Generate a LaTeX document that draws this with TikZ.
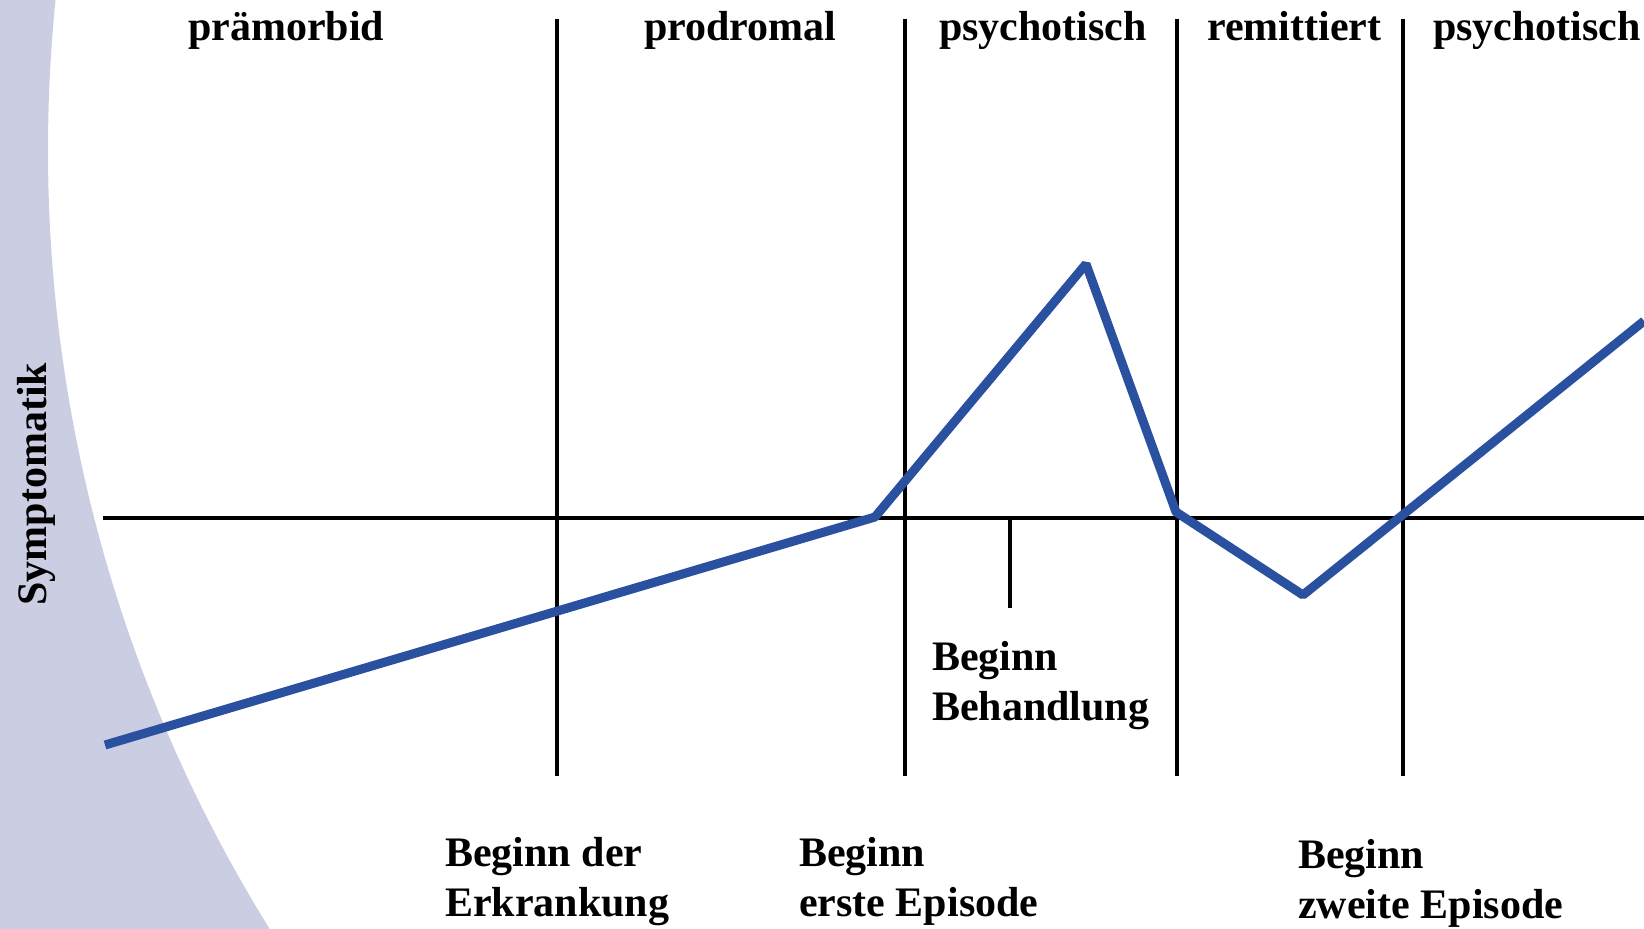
\documentclass[tikz,border=0pt]{standalone}
\usepackage{fontspec}
\setmainfont{Liberation Serif}
\definecolor{bgarc}{HTML}{CBCEE3}
\definecolor{curve}{HTML}{2A50A0}
\begin{document}
\begin{tikzpicture}[x=1pt,y=-1pt,
  lbl/.style={font=\fontsize{42}{50}\selectfont\bfseries, inner sep=0pt, anchor=base west, align=left},
  divider/.style={draw=black, line width=4pt},
  curveline/.style={draw=curve, line width=9pt, line join=bevel}]
\useasboundingbox (0,0) rectangle (1644,929);
% background arc
\begin{scope}
  \clip (0,0) rectangle (1644,929);
  \fill[bgarc, even odd rule] (-10,-600) rectangle (1700,1600) (1526,150) circle (1478);
\end{scope}
% axis and dividers
\coordinate (ax0) at (103,518);
\coordinate (ax1) at (1644,518);
\draw[divider] (ax0) -- (ax1);
\foreach \n/\x in {d1/557, d2/905, d3/1177, d4/1403} {
  \coordinate (\n top) at (\x,19);
  \coordinate (\n bot) at (\x,776);
  \draw[divider] (\n top) -- (\n bot);
}
\coordinate (tick0) at (1010,518);
\coordinate (tick1) at (1010,608);
\draw[divider] (tick0) -- (tick1);
% curve
\coordinate (p0) at (105,745);
\coordinate (p1) at (875,517);
\coordinate (p2) at (1086,264);
\coordinate (p3) at (1176,512);
\coordinate (p4) at (1303,595);
\coordinate (p5) at (1644,321);
\draw[curveline] (p0) -- (p1) -- (p2) -- (p3) -- (p4) -- (p5);
% phase labels
\node[lbl] (ph1) at (188,40) {prämorbid};
\node[lbl] (ph2) at (644,40) {prodromal};
\node[lbl] (ph3) at (939,40) {psychotisch};
\node[lbl] (ph4) at (1207,40) {remittiert};
\node[lbl] (ph5) at (1433,40) {psychotisch};
% event labels (anchor at baseline of last line)
\node[lbl] (ev1) at (445,916) {Beginn der\\Erkrankung};
\node[lbl] (ev2) at (799,916) {Beginn\\erste Episode};
\node[lbl] (ev3) at (1298,918) {Beginn\\zweite Episode};
\node[lbl] (ev4) at (932,720) {Beginn\\Behandlung};
% axis label
\node[font=\fontsize{42}{50}\selectfont\bfseries, inner sep=0pt, rotate=90] (ylab) at (36,484) {Symptomatik};
\end{tikzpicture}
\end{document}
